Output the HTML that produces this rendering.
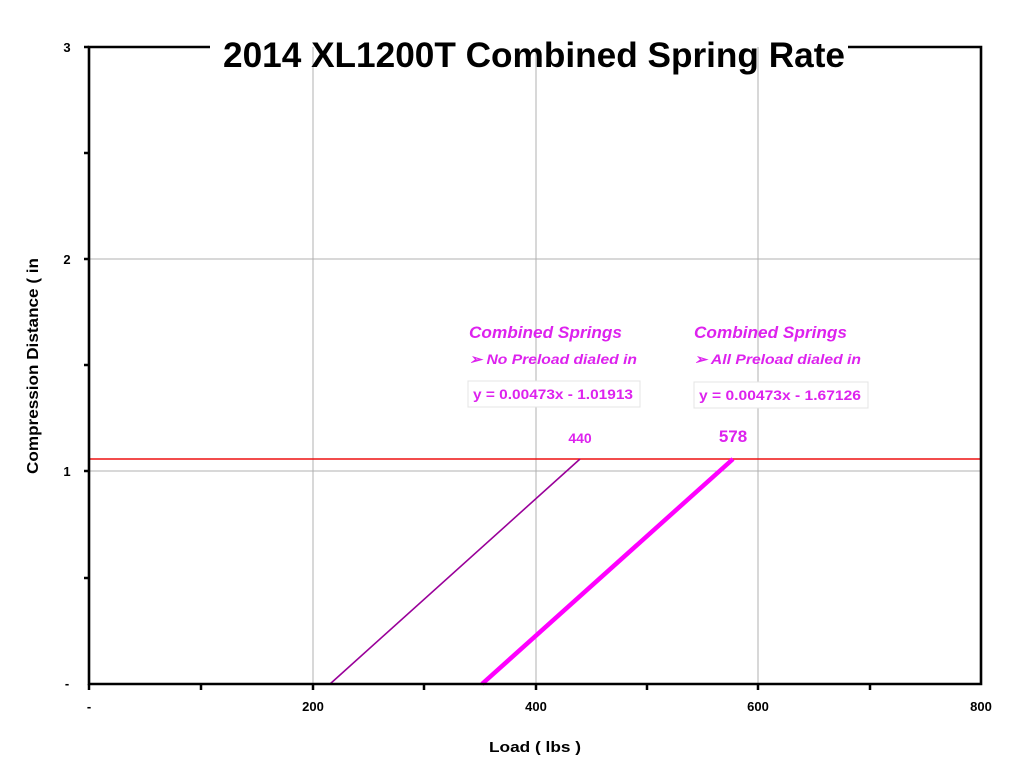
<!DOCTYPE html>
<html><head><meta charset="utf-8"><style>html,body{margin:0;padding:0;background:#fff}svg{display:block}</style></head>
<body>
<svg width="1024" height="770" viewBox="0 0 1024 770" xmlns="http://www.w3.org/2000/svg" font-family="'Liberation Sans', sans-serif">
<rect width="1024" height="770" fill="#fff"/>
<g stroke="#b0b0b0" stroke-width="1">
<line x1="313" y1="47" x2="313" y2="684"/>
<line x1="536" y1="47" x2="536" y2="684"/>
<line x1="758" y1="47" x2="758" y2="684"/>
<line x1="89" y1="259" x2="981" y2="259"/>
<line x1="89" y1="471" x2="981" y2="471"/>
</g>
<line x1="89" y1="459" x2="981" y2="459" stroke="#ee1111" stroke-width="1.5"/>
<line x1="330" y1="684" x2="580" y2="459" stroke="#990099" stroke-width="1.6"/>
<line x1="482" y1="684" x2="733" y2="459" stroke="#ff00ff" stroke-width="4.5"/>
<g stroke="#000" stroke-width="2.6" fill="none">
<polyline points="210,47 89,47 89,684 981,684 981,47 848,47"/>
</g>
<g stroke="#000" stroke-width="2.5">
<line x1="84" y1="47" x2="89" y2="47"/>
<line x1="84" y1="153" x2="89" y2="153"/>
<line x1="84" y1="259" x2="89" y2="259"/>
<line x1="84" y1="365" x2="89" y2="365"/>
<line x1="84" y1="471" x2="89" y2="471"/>
<line x1="84" y1="578" x2="89" y2="578"/>
<line x1="89" y1="684" x2="89" y2="690"/>
<line x1="201" y1="684" x2="201" y2="690"/>
<line x1="313" y1="684" x2="313" y2="690"/>
<line x1="424" y1="684" x2="424" y2="690"/>
<line x1="536" y1="684" x2="536" y2="690"/>
<line x1="647" y1="684" x2="647" y2="690"/>
<line x1="758" y1="684" x2="758" y2="690"/>
<line x1="870" y1="684" x2="870" y2="690"/>
</g>
<text x="534" y="67" text-anchor="middle" font-size="35" font-weight="bold" textLength="622" lengthAdjust="spacingAndGlyphs">2014 XL1200T Combined Spring Rate</text>
<g font-size="13" font-weight="bold" text-anchor="middle" fill="#000">
<text x="67" y="52">3</text>
<text x="67" y="264">2</text>
<text x="67" y="476">1</text>
<text x="67" y="688">-</text>
<text x="89" y="711">-</text>
<text x="313" y="711">200</text>
<text x="536" y="711">400</text>
<text x="758" y="711">600</text>
<text x="981" y="711">800</text>
</g>
<text x="535" y="752" text-anchor="middle" font-size="15" font-weight="bold" textLength="92" lengthAdjust="spacingAndGlyphs">Load ( lbs )</text>
<text transform="translate(38,366) rotate(-90)" text-anchor="middle" font-size="16" font-weight="bold" textLength="216" lengthAdjust="spacingAndGlyphs">Compression Distance ( in</text>
<g fill="#dd22ee" font-weight="bold">
<text x="469" y="338" font-size="17" font-style="italic" textLength="153" lengthAdjust="spacingAndGlyphs">Combined Springs</text>
<text x="469" y="364" font-size="14" font-style="italic" textLength="168" lengthAdjust="spacingAndGlyphs">➢  No Preload dialed in</text>
<rect x="468" y="381" width="172" height="26" fill="#fff" stroke="#e4e4e4" stroke-width="1"/>
<text x="473" y="399" font-size="14" textLength="160" lengthAdjust="spacingAndGlyphs">y = 0.00473x - 1.01913</text>
<text x="694" y="338" font-size="17" font-style="italic" textLength="153" lengthAdjust="spacingAndGlyphs">Combined Springs</text>
<text x="694" y="364" font-size="14" font-style="italic" textLength="167" lengthAdjust="spacingAndGlyphs">➢  All Preload dialed in</text>
<rect x="694" y="382" width="174" height="26" fill="#fff" stroke="#e4e4e4" stroke-width="1"/>
<text x="699" y="400" font-size="14" textLength="162" lengthAdjust="spacingAndGlyphs">y = 0.00473x - 1.67126</text>
<text x="580" y="443" font-size="14" text-anchor="middle">440</text>
<text x="733" y="442" font-size="17" text-anchor="middle">578</text>
</g>
</svg>
</body></html>
